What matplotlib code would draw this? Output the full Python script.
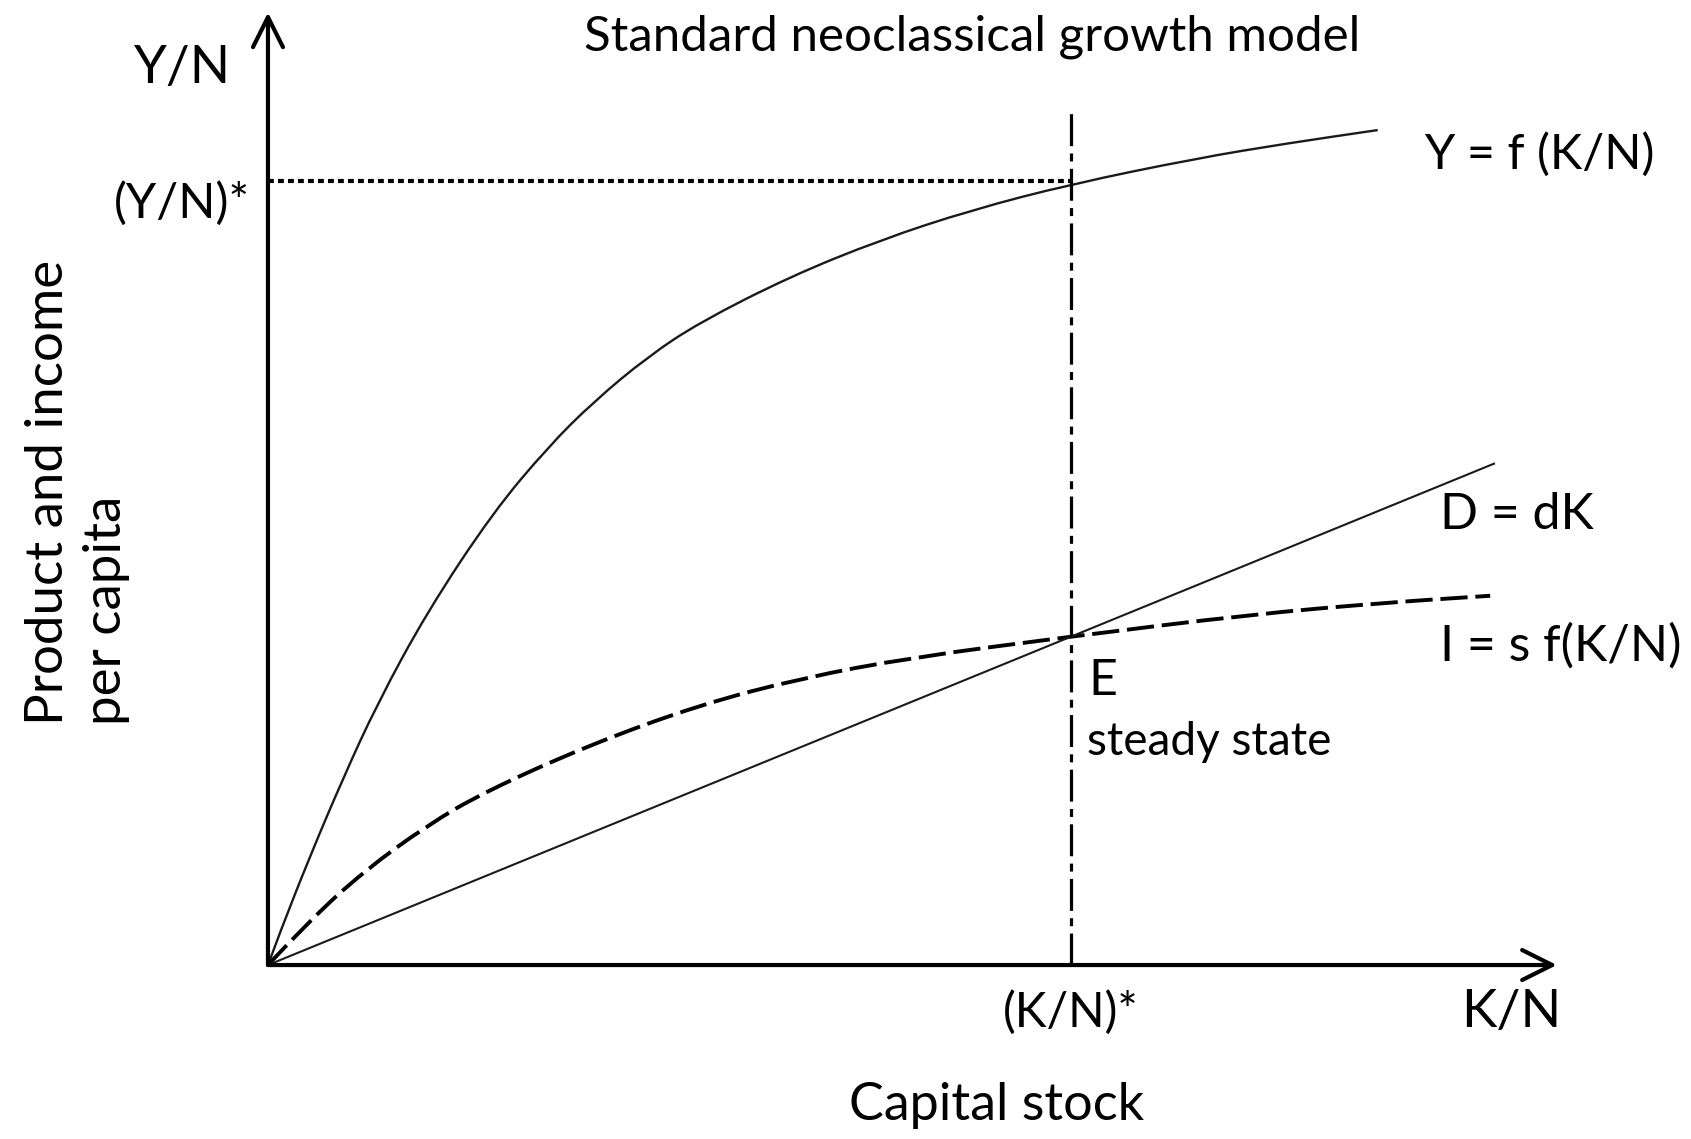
import matplotlib.pyplot as plt
from matplotlib.path import Path
from matplotlib.patches import PathPatch

plt.rcParams['font.family'] = 'Lato'

# Y = f(K/N) (production curve)
k_f = [0, 0.15, 0.52, 0.93, 1.36, 1.98, 2.80, 3.49, 4.05, 4.73, 5.38, 6.50,
       7.63, 8.76, 10.0, 11.57, 12.69, 13.82]
y_f = [0, 0.42, 1.38, 2.37, 3.33, 4.50, 5.77, 6.61, 7.18, 7.76, 8.20, 8.78,
       9.25, 9.63, 9.96, 10.29, 10.48, 10.65]

# I = s f(K/N) (investment curve)
k_i = [0, 0.52, 1.20, 1.98, 2.70, 4.01, 5.38, 6.65, 8.00, 10.0, 12.23, 13.89, 15.22]
i_v = [0, 0.57, 1.20, 1.78, 2.21, 2.81, 3.32, 3.66, 3.92, 4.19, 4.47, 4.62, 4.71]

# D = dK (depreciation line)
k_d = [0, 15.28]
d_v = [0, 6.40]

# steady state
k_star = 10.0
y_star = 10.0
vline_top = 10.87

# axis ends
x_end = 16.05
y_end = 12.15


def smooth_path(xs, ys):
    # quadratic bezier through the midpoints, so the sketch has no corners
    pts = list(zip(xs, ys))
    verts = [pts[0]]
    codes = [Path.MOVETO]
    for i in range(1, len(pts) - 1):
        mid = ((pts[i][0] + pts[i + 1][0]) / 2, (pts[i][1] + pts[i + 1][1]) / 2)
        verts += [pts[i], mid]
        codes += [Path.CURVE3, Path.CURVE3]
    verts.append(pts[-1])
    codes.append(Path.LINETO)
    return Path(verts, codes)


fig = plt.figure(figsize=(16.91, 11.39), dpi=100)
ax = fig.add_axes([0, 0, 1, 1])
ax.set_xlim(-3.337, 17.721)
ax.set_ylim(-2.219, 12.309)
ax.axis('off')

# axes with arrows
arrow = dict(arrowstyle='->, head_length=0.9, head_width=0.45', lw=3.0,
             color='black', mutation_scale=24, shrinkA=0, shrinkB=0)
ax.annotate('', xy=(0, y_end), xytext=(0, 0), arrowprops=arrow)
ax.annotate('', xy=(x_end, 0), xytext=(0, 0), arrowprops=arrow)

# curves
ax.add_patch(PathPatch(smooth_path(k_f, y_f), fill=False, edgecolor='#1a1a1a',
                       lw=1.7, capstyle='butt'))
ax.plot(k_d, d_v, color='#1a1a1a', lw=1.5, solid_capstyle='butt')
ax.add_patch(PathPatch(smooth_path(k_i, i_v), fill=False, edgecolor='black',
                       lw=2.8, linestyle=(0, (7, 2)), capstyle='butt'))

# steady state guides
ax.plot([0, k_star], [y_star, y_star], color='black', lw=3.0,
        dashes=(1.4, 1.0), dash_capstyle='butt')
ax.plot([k_star, k_star], [0, vline_top], color='black', lw=2.3,
        dashes=(10, 2.3, 2.5, 2.3), dash_capstyle='butt')

# texts
ax.text(8.77, 11.84, 'Standard neoclassical growth model', fontsize=35.5,
        ha='center', va='center')
ax.text(-1.07, 11.44, 'Y/N', fontsize=38, ha='center', va='center')
ax.text(-0.22, 9.71, '(Y/N)*', fontsize=35, ha='right', va='center')
ax.text(14.40, 10.34, 'Y = f (K/N)', fontsize=35, ha='left', va='center')
ax.text(14.60, 5.74, 'D = dK', fontsize=36, ha='left', va='center')
ax.text(14.60, 4.06, 'I = s f(K/N)', fontsize=36, ha='left', va='center')
ax.text(10.22, 3.62, 'E', fontsize=36, ha='left', va='center')
ax.text(10.20, 2.84, 'steady state', fontsize=33, ha='left', va='center')
ax.text(k_star, -0.61, '(K/N)*', fontsize=34.5, ha='center', va='center')
ax.text(15.48, -0.61, 'K/N', fontsize=38.5, ha='center', va='center')
ax.text(9.07, -1.79, 'Capital stock', fontsize=37.5, ha='center', va='center')
ax.text(-2.37, 3.06, 'Product and income\nper capita', fontsize=38,
        rotation=90, ha='center', va='bottom', multialignment='left',
        linespacing=1.3)

plt.savefig('out.png', dpi=100)
